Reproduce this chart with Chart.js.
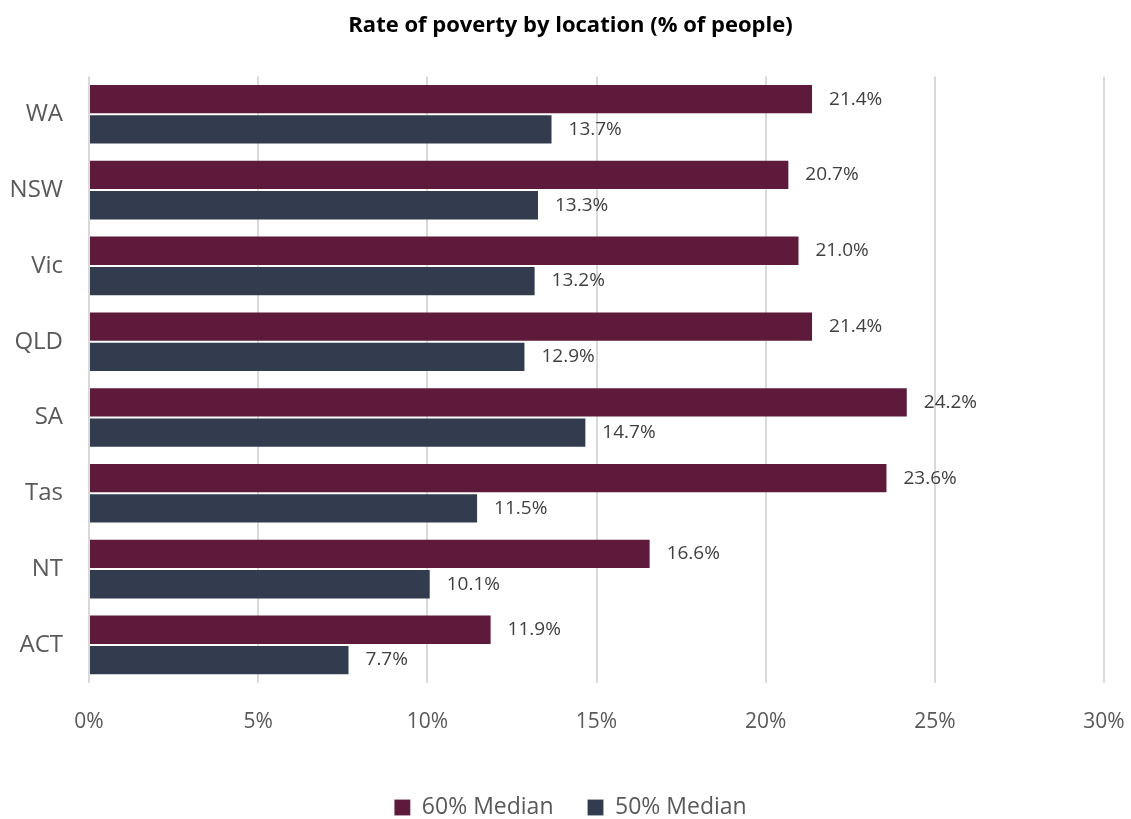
<!DOCTYPE html>
<html>
<head>
<meta charset="utf-8">
<script src="https://cdn.jsdelivr.net/npm/chart.js@4/dist/chart.umd.min.js"></script>
<style>
  html, body { margin: 0; padding: 0; background: #fff; }
  #wrap { width: 1131px; height: 819px; }
</style>
</head>
<body>
<div id="wrap"><canvas id="poverty"></canvas></div>
<script>
// Poverty rate by state/territory, two poverty lines
const states = ['WA', 'NSW', 'Vic', 'QLD', 'SA', 'Tas', 'NT', 'ACT'];
const median60 = [21.4, 20.7, 21.0, 21.4, 24.2, 23.6, 16.6, 11.9];
const median50 = [13.7, 13.3, 13.2, 12.9, 14.7, 11.5, 10.1, 7.7];
const xTicks = [0, 5, 10, 15, 20, 25, 30];

const COLORS = {
  maroon: '#5E1A3A',
  slate: '#323C4E',
  text: '#595959',
  label: '#404040',
  grid: '#D9D9D9',
};

const FONT = "'Open Sans', 'Liberation Sans', sans-serif";

// writes the value just past the end of each bar
const barValues = {
  id: 'barValues',
  afterDatasetsDraw(chart) {
    const { ctx } = chart;
    ctx.save();
    ctx.font = `19px ${FONT}`;
    ctx.fillStyle = COLORS.label;
    ctx.textAlign = 'left';
    ctx.textBaseline = 'middle';
    chart.data.datasets.forEach((ds, i) => {
      chart.getDatasetMeta(i).data.forEach((bar, j) => {
        ctx.fillText(ds.data[j].toFixed(1) + '%', bar.x + 16, bar.y);
      });
    });
    ctx.restore();
  },
};

new Chart(document.getElementById('poverty'), {
  type: 'bar',
  data: {
    labels: states,
    datasets: [
      {
        label: '60% Median',
        data: median60,
        backgroundColor: COLORS.maroon,
        borderColor: 'rgba(255,255,255,0.15)',
        borderWidth: 1,
      },
      {
        label: '50% Median',
        data: median50,
        backgroundColor: COLORS.slate,
        borderColor: 'rgba(255,255,255,0.15)',
        borderWidth: 1,
      },
    ],
  },
  options: {
    indexAxis: 'y',
    responsive: true,
    maintainAspectRatio: false,
    animation: false,
    categoryPercentage: 0.8,
    barPercentage: 1,
    layout: { padding: { left: 10, right: 0, top: 0, bottom: -10 } },
    plugins: {
      title: {
        display: true,
        text: 'Rate of poverty by location (% of people)',
        color: '#000',
        font: { family: FONT, size: 22, weight: 'bold' },
        padding: { top: 13, bottom: 37 },
      },
      legend: {
        position: 'bottom',
        labels: {
          color: COLORS.text,
          font: { family: FONT, size: 23 },
          boxWidth: 16,
          boxHeight: 16,
          padding: 34,
        },
      },
      tooltip: { enabled: false },
    },
    scales: {
      x: {
        min: 0,
        max: 30,
        afterBuildTicks(axis) {
          axis.ticks = xTicks.map(v => ({ value: v }));
        },
        afterFit(axis) {
          axis.paddingLeft = 0;
          axis.paddingRight = 27;
        },
        grid: { color: COLORS.grid, lineWidth: 2, drawTicks: false },
        border: { display: false },
        ticks: {
          color: COLORS.text,
          font: { family: FONT, size: 21 },
          padding: 27,
          callback: v => v + '%',
        },
      },
      y: {
        afterFit(axis) {
          axis.width = 79;
        },
        grid: { display: false },
        border: { display: false },
        ticks: {
          color: COLORS.text,
          font: { family: FONT, size: 24 },
          padding: 18,
        },
      },
    },
  },
  plugins: [barValues],
});
</script>
</body>
</html>
